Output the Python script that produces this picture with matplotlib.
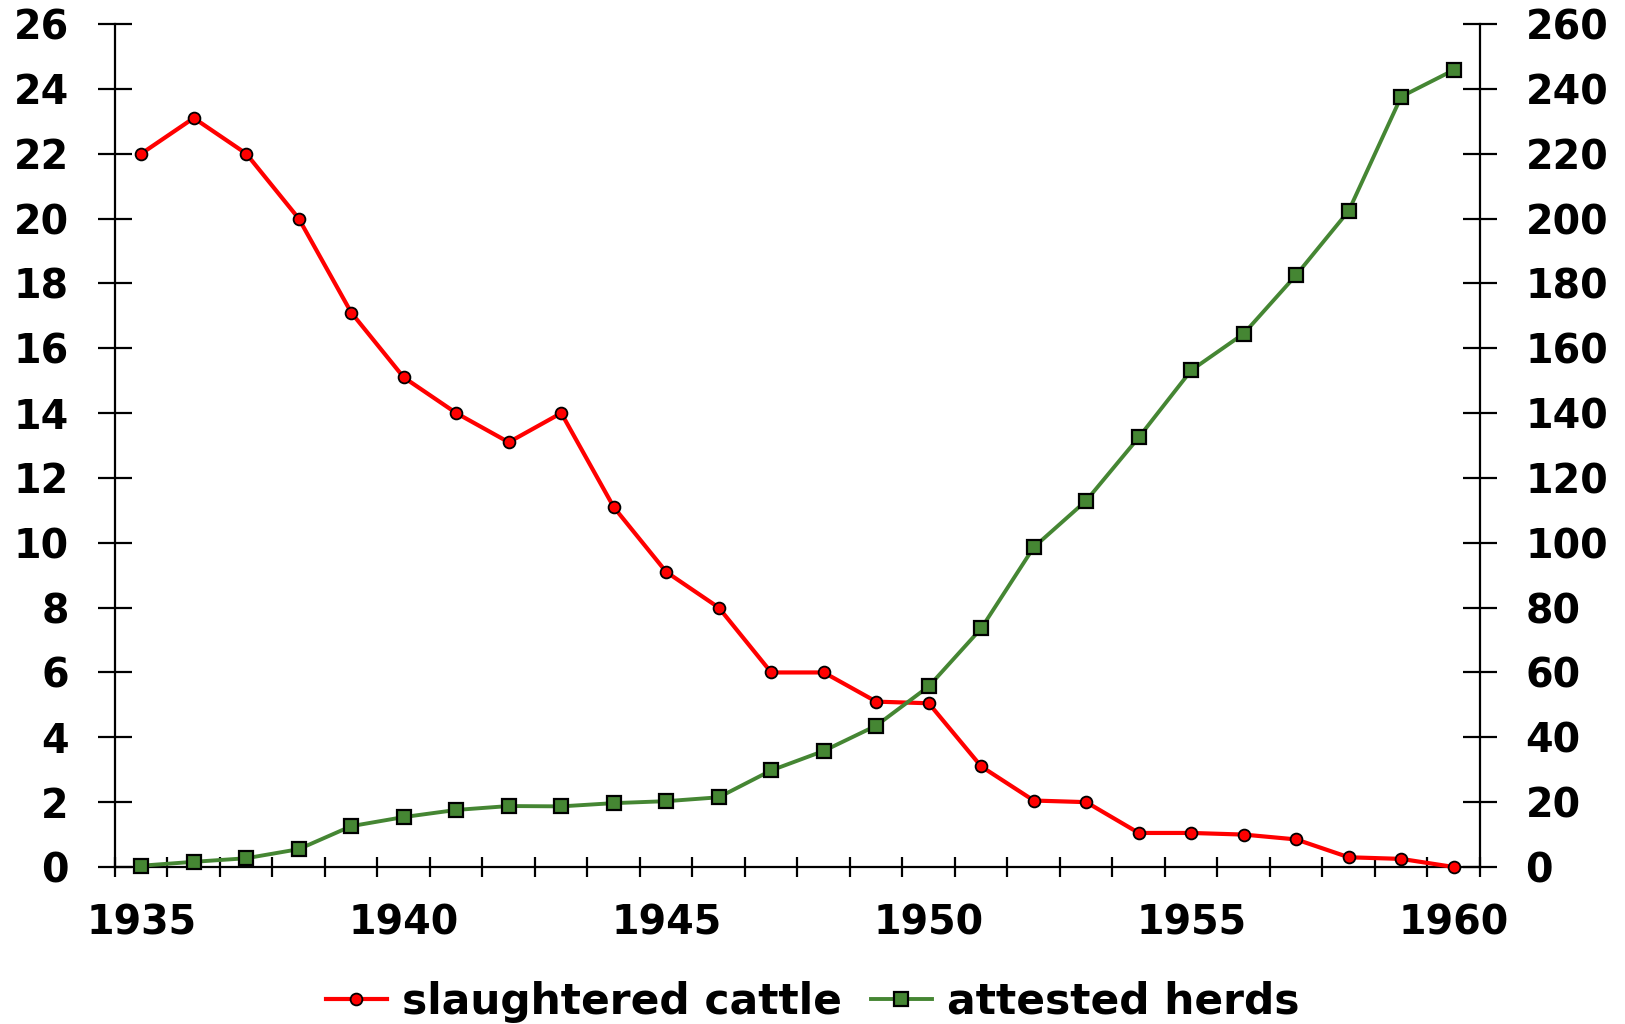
import matplotlib
matplotlib.use('Agg')
import matplotlib.pyplot as plt

plt.rcParams['font.family'] = ['DejaVu Sans']
plt.rcParams['font.weight'] = 'bold'

years = list(range(1935, 1961))
slaughtered_cattle = [22.0, 23.1, 22.0, 20.0, 17.1, 15.1, 14.0, 13.1, 14.0, 11.1,
                      9.1, 8.0, 6.0, 6.0, 5.1, 5.05, 3.1, 2.05, 2.0, 1.05,
                      1.05, 1.0, 0.85, 0.3, 0.25, 0.0]
attested_herds = [0.4, 1.6, 2.7, 5.5, 12.6, 15.4, 17.6, 18.8, 18.7, 19.7,
                  20.3, 21.5, 29.8, 35.8, 43.6, 55.7, 73.6, 98.6, 113.0, 132.5,
                  153.2, 164.5, 182.6, 202.4, 237.6, 245.8]
x_labels = [1935, 1940, 1945, 1950, 1955, 1960]
left_ticks = list(range(0, 27, 2))
right_ticks = list(range(0, 261, 20))

RED = '#ff0000'
GREEN = '#458633'

fig = plt.figure(figsize=(16.25, 10.24), dpi=100)
ax = fig.add_axes([115/1625, 157/1024, (1480-115)/1625, (867-24)/1024])
ax2 = ax.twinx()

l1, = ax.plot(years, slaughtered_cattle, color=RED, lw=3.0, marker='o', ms=8.5,
              mfc=RED, mec='black', mew=1.3, label='slaughtered cattle', zorder=3,
              clip_on=False)
l2, = ax2.plot(years, attested_herds, color=GREEN, lw=2.8, marker='s', ms=10.5,
               mfc=GREEN, mec='black', mew=1.6, label='attested herds', zorder=3,
               clip_on=False)

ax.set_xlim(1934.5, 1960.5)
ax.set_ylim(0, 26)
ax2.set_ylim(0, 26 * 10)

ax.set_xticks(x_labels)
ax.set_xticks([y - 0.5 for y in years] + [1960.5], minor=True)
ax.tick_params(axis='x', which='major', length=0, pad=26.5, labelsize=28.5)
ax.tick_params(axis='x', which='minor', direction='inout', length=15, width=1.6)

ax.set_yticks(left_ticks)
ax.tick_params(axis='y', which='major', direction='inout', length=24.5, width=1.6,
               pad=21, labelsize=28.5)
ax2.set_yticks(right_ticks)
ax2.tick_params(axis='y', which='major', direction='inout', length=24.5, width=1.6,
                pad=20.5, labelsize=28.5)

for a in (ax, ax2):
    a.spines['top'].set_visible(False)
    for s in ('left', 'right', 'bottom'):
        a.spines[s].set_linewidth(1.6)
ax.spines['right'].set_visible(False)
ax2.spines['left'].set_visible(False)
ax2.spines['bottom'].set_visible(False)

for lab in ax.get_xticklabels() + ax.get_yticklabels() + ax2.get_yticklabels():
    lab.set_fontweight('bold')

fig.legend(handles=[l1, l2], loc='center', bbox_to_anchor=(0.5, 1 - 1002/1024),
           ncol=2, frameon=False, handlelength=1.44,
           handletextpad=0.35, columnspacing=0.69, borderpad=0, borderaxespad=0,
           prop={'weight': 'bold', 'size': 30.5})

fig.savefig('out.png', dpi=100)
